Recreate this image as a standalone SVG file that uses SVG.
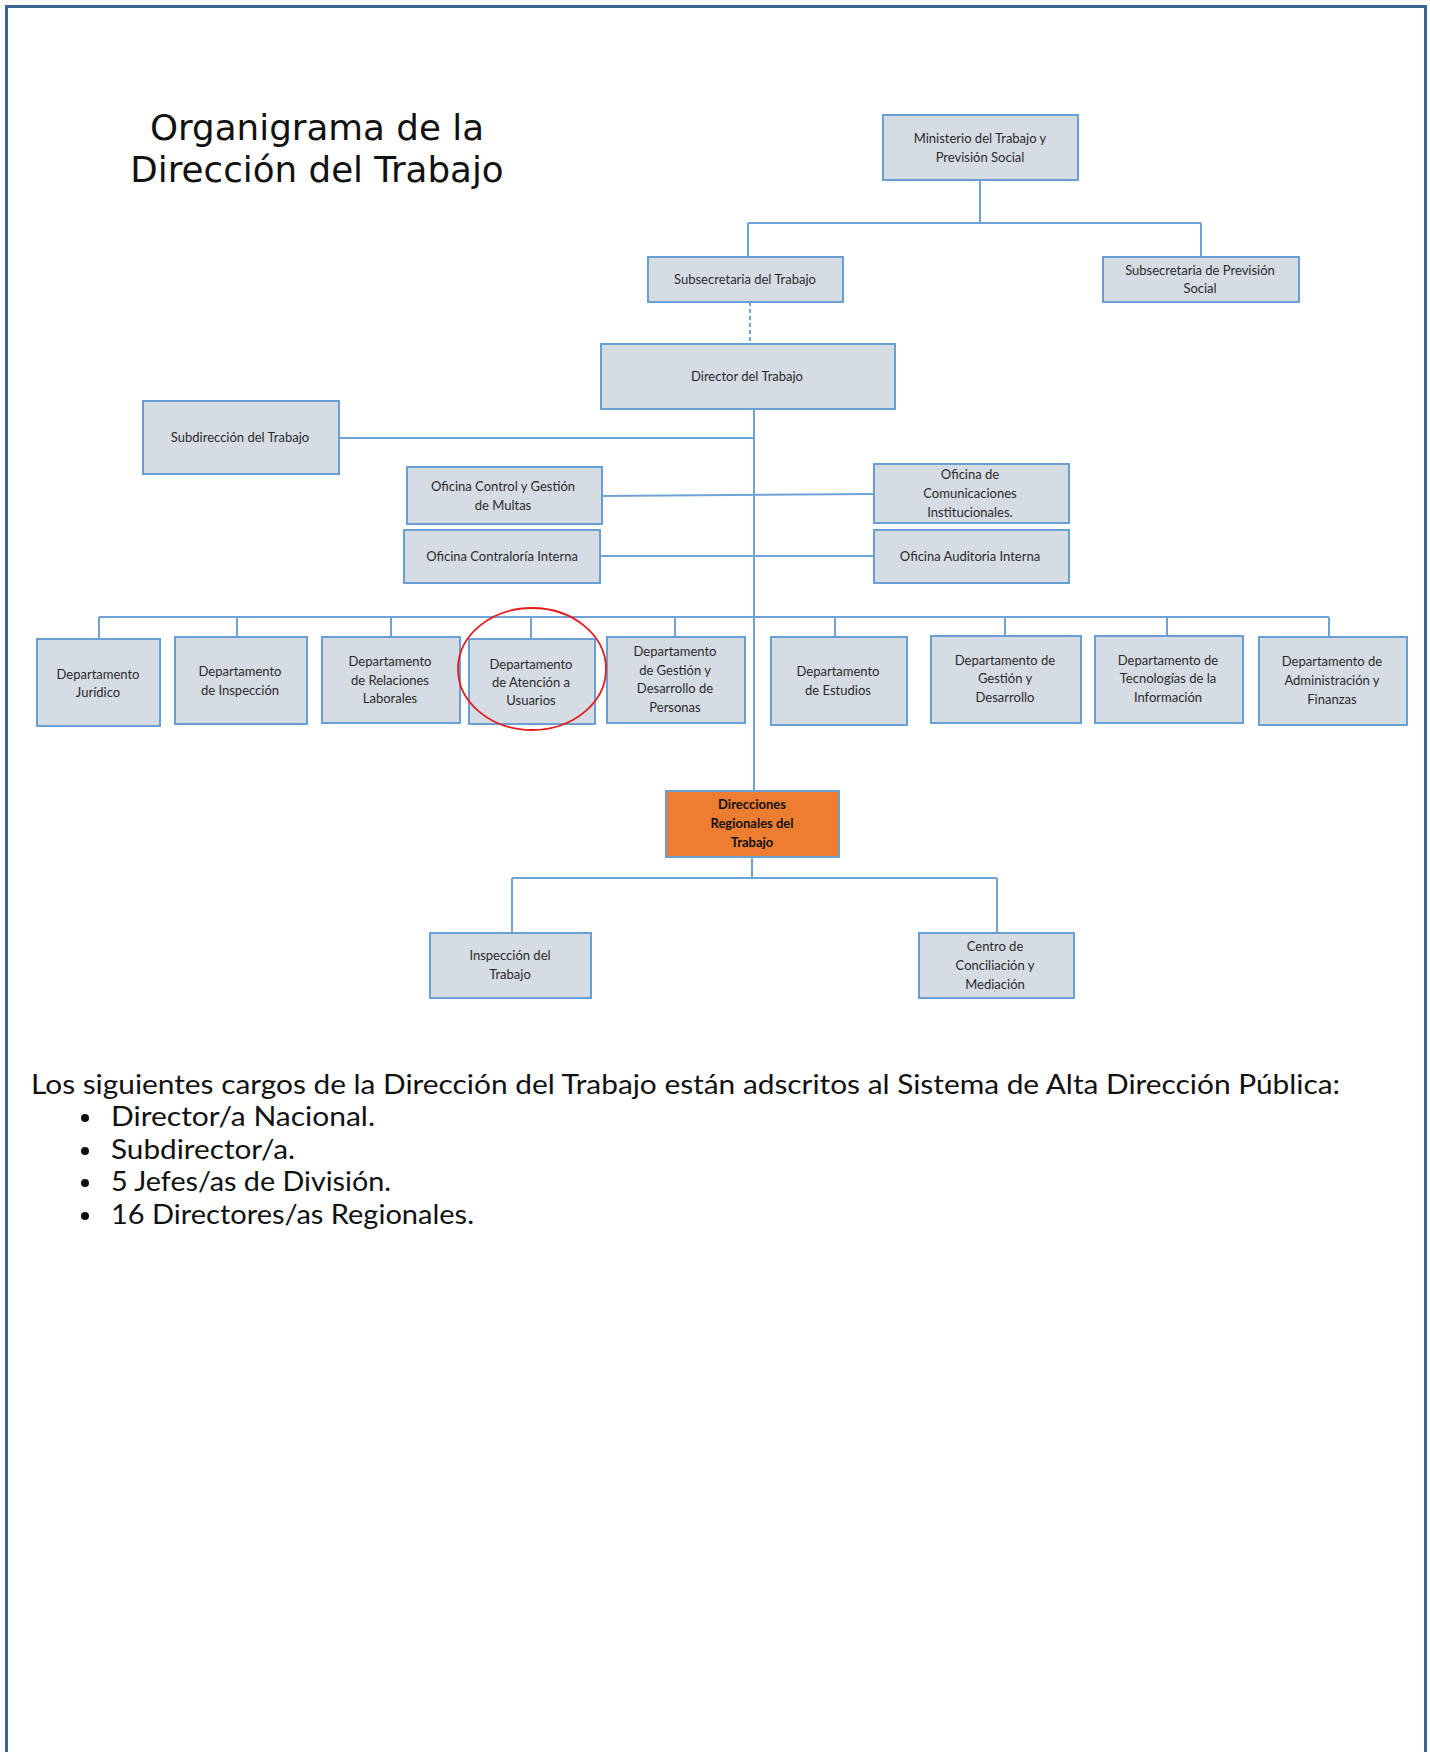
<svg xmlns="http://www.w3.org/2000/svg" width="1430" height="1752" viewBox="0 0 1430 1752">
<style>
.box{fill:#D6DCE4;stroke:#6A9FD4;stroke-width:2}
.orange{fill:#ED7D31;stroke:#6A9FD4;stroke-width:2}
.lbl{font-family:Lato,"Liberation Sans",sans-serif;font-size:13px;fill:#2a2a2a;text-anchor:middle}
.blbl{font-family:Lato,"Liberation Sans",sans-serif;font-size:13px;font-weight:bold;fill:#111;text-anchor:middle}
.conn line,.conn path{stroke:#6FA3D8;stroke-width:2;fill:none}
.title{font-family:"DejaVu Sans",sans-serif;font-size:35.7px;fill:#111;text-anchor:middle}
.body{font-family:Lato,"Open Sans",sans-serif;font-size:26px;fill:#111}
</style>
<rect x="0" y="0" width="1430" height="1752" fill="#fff"/>
<path d="M6.5 1752 V6.5 H1425.5 V1752" fill="none" stroke="#3A6494" stroke-width="3"/>

<text class="title" x="317" y="140">Organigrama de la</text>
<text class="title" x="317" y="182">Dirección del Trabajo</text>

<g class="conn" id="connectors">
<line x1="980" y1="180" x2="980" y2="223"/>
<line x1="748" y1="223" x2="1201" y2="223"/>
<line x1="748" y1="223" x2="748" y2="257"/>
<line x1="1201" y1="223" x2="1201" y2="257"/>
<line x1="750" y1="302" x2="750" y2="344" stroke-dasharray="4 3"/>
<line x1="754" y1="409" x2="754" y2="791"/>
<line x1="339" y1="438" x2="754" y2="438"/>
<line x1="602" y1="496" x2="874" y2="494"/>
<line x1="600" y1="556" x2="874" y2="556"/>
<line x1="99" y1="617" x2="1329" y2="617"/>
<line x1="99" y1="617" x2="99" y2="639"/>
<line x1="237" y1="617" x2="237" y2="637"/>
<line x1="391" y1="617" x2="391" y2="637"/>
<line x1="531" y1="617" x2="531" y2="639"/>
<line x1="675" y1="617" x2="675" y2="637"/>
<line x1="835" y1="617" x2="835" y2="637"/>
<line x1="1005" y1="617" x2="1005" y2="636"/>
<line x1="1167" y1="617" x2="1167" y2="636"/>
<line x1="1329" y1="617" x2="1329" y2="637"/>
<line x1="752" y1="857" x2="752" y2="878"/>
<line x1="512" y1="878" x2="997" y2="878"/>
<line x1="512" y1="878" x2="512" y2="933"/>
<line x1="997" y1="878" x2="997" y2="933"/>
</g>

<g id="ministerio"><rect class="box" x="883" y="115" width="195" height="65"/>
<text class="lbl" x="980" y="143">Ministerio del Trabajo y</text>
<text class="lbl" x="980" y="162">Previsión Social</text></g>

<g id="subsec-trabajo"><rect class="box" x="648" y="257" width="195" height="45"/>
<text class="lbl" x="745" y="284">Subsecretaria del Trabajo</text></g>

<g id="subsec-prevision"><rect class="box" x="1103" y="257" width="196" height="45"/>
<text class="lbl" x="1200" y="275">Subsecretaria de Previsión</text>
<text class="lbl" x="1200" y="293">Social</text></g>

<g id="director"><rect class="box" x="601" y="344" width="294" height="65"/>
<text class="lbl" x="747" y="381">Director del Trabajo</text></g>

<g id="subdireccion"><rect class="box" x="143" y="401" width="196" height="73"/>
<text class="lbl" x="240" y="442">Subdirección del Trabajo</text></g>

<g id="oficina-control"><rect class="box" x="407" y="467" width="195" height="57"/>
<text class="lbl" x="503" y="491">Oficina Control y Gestión</text>
<text class="lbl" x="503" y="510">de Multas</text></g>

<g id="oficina-comunicaciones"><rect class="box" x="874" y="464" width="195" height="59"/>
<text class="lbl" x="970" y="479">Oficina de</text>
<text class="lbl" x="970" y="498">Comunicaciones</text>
<text class="lbl" x="970" y="517">Institucionales.</text></g>

<g id="oficina-contraloria"><rect class="box" x="404" y="530" width="196" height="53"/>
<text class="lbl" x="502" y="561">Oficina Contraloría Interna</text></g>

<g id="oficina-auditoria"><rect class="box" x="874" y="530" width="195" height="53"/>
<text class="lbl" x="970" y="561">Oficina Auditoria Interna</text></g>

<g id="dep-juridico"><rect class="box" x="37" y="639" width="123" height="87"/>
<text class="lbl" x="98" y="679">Departamento</text>
<text class="lbl" x="98" y="697">Jurídico</text></g>

<g id="dep-inspeccion"><rect class="box" x="175" y="637" width="132" height="87"/>
<text class="lbl" x="240" y="676">Departamento</text>
<text class="lbl" x="240" y="695">de Inspección</text></g>

<g id="dep-relaciones"><rect class="box" x="322" y="637" width="138" height="86"/>
<text class="lbl" x="390" y="666">Departamento</text>
<text class="lbl" x="390" y="685">de Relaciones</text>
<text class="lbl" x="390" y="703">Laborales</text></g>

<g id="dep-atencion"><rect class="box" x="469" y="639" width="126" height="85"/>
<text class="lbl" x="531" y="669">Departamento</text>
<text class="lbl" x="531" y="687">de Atención a</text>
<text class="lbl" x="531" y="705">Usuarios</text></g>

<g id="dep-gestion-personas"><rect class="box" x="607" y="637" width="138" height="86"/>
<text class="lbl" x="675" y="656">Departamento</text>
<text class="lbl" x="675" y="675">de  Gestión y</text>
<text class="lbl" x="675" y="693">Desarrollo de</text>
<text class="lbl" x="675" y="712">Personas</text></g>

<g id="dep-estudios"><rect class="box" x="771" y="637" width="136" height="88"/>
<text class="lbl" x="838" y="676">Departamento</text>
<text class="lbl" x="838" y="695">de Estudios</text></g>

<g id="dep-gestion-desarrollo"><rect class="box" x="931" y="636" width="150" height="87"/>
<text class="lbl" x="1005" y="665">Departamento de</text>
<text class="lbl" x="1005" y="683">Gestión y</text>
<text class="lbl" x="1005" y="702">Desarrollo</text></g>

<g id="dep-tecnologias"><rect class="box" x="1095" y="636" width="148" height="87"/>
<text class="lbl" x="1168" y="665">Departamento de</text>
<text class="lbl" x="1168" y="683">Tecnologías de la</text>
<text class="lbl" x="1168" y="702">Información</text></g>

<g id="dep-administracion"><rect class="box" x="1259" y="637" width="148" height="88"/>
<text class="lbl" x="1332" y="666">Departamento de</text>
<text class="lbl" x="1332" y="685">Administración y</text>
<text class="lbl" x="1332" y="704">Finanzas</text></g>

<ellipse cx="532" cy="669" rx="74" ry="61" fill="none" stroke="#E8191B" stroke-width="1.8"/>

<g id="direcciones-regionales"><rect class="orange" x="666" y="791" width="173" height="66"/>
<text class="blbl" x="752" y="809">Direcciones</text>
<text class="blbl" x="752" y="828">Regionales del</text>
<text class="blbl" x="752" y="847">Trabajo</text></g>

<g id="inspeccion-trabajo"><rect class="box" x="430" y="933" width="161" height="65"/>
<text class="lbl" x="510" y="960">Inspección del</text>
<text class="lbl" x="510" y="979">Trabajo</text></g>

<g id="centro-conciliacion"><rect class="box" x="919" y="933" width="155" height="65"/>
<text class="lbl" x="995" y="951">Centro de</text>
<text class="lbl" x="995" y="970">Conciliación y</text>
<text class="lbl" x="995" y="989">Mediación</text></g>

<text class="body" x="31" y="1094" textLength="1309" lengthAdjust="spacingAndGlyphs">Los siguientes cargos de la Dirección del Trabajo están adscritos al Sistema de Alta Dirección Pública:</text>
<circle cx="85" cy="1118" r="4" fill="#111"/>
<circle cx="85" cy="1151" r="4" fill="#111"/>
<circle cx="85" cy="1183" r="4" fill="#111"/>
<circle cx="85" cy="1216" r="4" fill="#111"/>
<text class="body" x="111" y="1126" textLength="264" lengthAdjust="spacingAndGlyphs">Director/a Nacional.</text>
<text class="body" x="111" y="1159" textLength="184" lengthAdjust="spacingAndGlyphs">Subdirector/a.</text>
<text class="body" x="111" y="1191" textLength="280" lengthAdjust="spacingAndGlyphs">5 Jefes/as de División.</text>
<text class="body" x="111" y="1224" textLength="363" lengthAdjust="spacingAndGlyphs">16 Directores/as Regionales.</text>
</svg>
